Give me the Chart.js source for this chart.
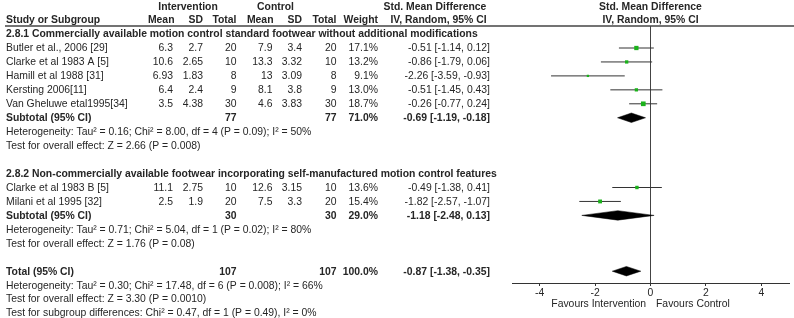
<!DOCTYPE html>
<html><head><meta charset="utf-8">
<script src="https://cdn.jsdelivr.net/npm/chart.js@4/dist/chart.umd.min.js"></script>
<style>html,body{margin:0;padding:0;background:#fff}#wrap{width:794px;height:318px}</style>
</head><body><div id="wrap"><canvas id="c" width="794" height="318"></canvas></div>
<script>
// ---------- data ----------
const studies   = ["Butler et al., 2006 [29]","Clarke et al 1983 A [5]","Hamill et al 1988 [31]","Kersting 2006[11]","Van Gheluwe etal1995[34]","Clarke et al 1983 B [5]","Milani et al 1995 [32]"];
const studyGroup= [0,0,0,0,0,1,1];
const intMean   = [6.3,10.6,6.93,6.4,3.5,11.1,2.5];
const intSD     = [2.7,2.65,1.83,2.4,4.38,2.75,1.9];
const intN      = [20,10,8,9,30,10,20];
const ctlMean   = [7.9,13.3,13,8.1,4.6,12.6,7.5];
const ctlSD     = [3.4,3.32,3.09,3.8,3.83,3.15,3.3];
const ctlN      = [20,10,8,9,30,10,20];
const weights   = [17.1,13.2,9.1,13.0,18.7,13.6,15.4];
const smd       = [-0.51,-0.86,-2.26,-0.51,-0.26,-0.49,-1.82];
const smdLo     = [-1.14,-1.79,-3.59,-1.45,-0.77,-1.38,-2.57];
const smdHi     = [0.12,0.06,-0.93,0.43,0.24,0.41,-1.07];

const groupTitles = ["2.8.1 Commercially available motion control standard footwear without additional modifications",
                     "2.8.2 Non-commercially available footwear incorporating self-manufactured motion control features"];
const subIntN   = [77,30];
const subCtlN   = [77,30];
const subWeight = [71.0,29.0];
const subSmd    = [-0.69,-1.18];
const subLo     = [-1.19,-2.48];
const subHi     = [-0.18,0.13];
const subHet    = ["Heterogeneity: Tau\u00b2 = 0.16; Chi\u00b2 = 8.00, df = 4 (P = 0.09); I\u00b2 = 50%",
                   "Heterogeneity: Tau\u00b2 = 0.71; Chi\u00b2 = 5.04, df = 1 (P = 0.02); I\u00b2 = 80%"];
const subTest   = ["Test for overall effect: Z = 2.66 (P = 0.008)","Test for overall effect: Z = 1.76 (P = 0.08)"];

const totIntN = 107, totCtlN = 107, totWeight = 100.0;
const totSmd = -0.87, totLo = -1.38, totHi = -0.35;
const totHet  = "Heterogeneity: Tau\u00b2 = 0.30; Chi\u00b2 = 17.48, df = 6 (P = 0.008); I\u00b2 = 66%";
const totTest = "Test for overall effect: Z = 3.30 (P = 0.0010)";
const subgroupTest = "Test for subgroup differences: Chi\u00b2 = 0.47, df = 1 (P = 0.49), I\u00b2 = 0%";

const xTicks = [-4,-2,0,2,4];
const favLeft = "Favours Intervention", favRight = "Favours Control";

// ---------- layout of rows (row index) ----------
const rows = [];
rows.push({type:'h0'}); rows.push({type:'h1'});
[0,1].forEach(g=>{
  rows.push({type:'gtitle', g});
  studies.forEach((s,i)=>{ if(studyGroup[i]===g) rows.push({type:'study', i}); });
  rows.push({type:'sub', g});
  rows.push({type:'text', t:subHet[g]});
  rows.push({type:'text', t:subTest[g]});
  rows.push({type:'blank'});
});
rows.push({type:'total'});
rows.push({type:'text', t:totHet});
rows.push({type:'text', t:totTest});
rows.push({type:'text', t:subgroupTest});
const rowOf = {}; rows.forEach((r,k)=>{ if(r.type==='study') rowOf['s'+r.i]=k; if(r.type==='sub') rowOf['g'+r.g]=k; if(r.type==='total') rowOf.tot=k; });

// ---------- style ----------
const ROW_PX = 13.95, ROW0_PX = 6.15, TOP_PX = 26, AXIS_PX = 283;
const GREEN = '#1bb21b', INK = '#262626', LINE = '#333';
const DIA_H = 0.34;
const FONT = '"Liberation Sans", Arial, sans-serif';
const FS = 10.4;

const datasets = [];
studies.forEach((s,i)=>{
  datasets.push({type:'scatter', showLine:true, data:[{x:smdLo[i],y:rowOf['s'+i]},{x:smdHi[i],y:rowOf['s'+i]}],
    borderColor:LINE, borderWidth:1, pointRadius:0, order:2});
});
datasets.push({type:'scatter', data: studies.map((s,i)=>({x:smd[i],y:rowOf['s'+i]})),
  pointStyle:'rect', pointRadius: weights.map(w=>0.25*w/1.4142), backgroundColor:GREEN, borderWidth:0, order:0});
function diamond(est,lo,hi,row){
  return [{x:lo,y:row},{x:est,y:row-DIA_H},{x:hi,y:row},{x:est,y:row+DIA_H},{x:lo,y:row}];
}
[0,1].forEach(g=>{
  datasets.push({type:'scatter', showLine:true, data:diamond(subSmd[g],subLo[g],subHi[g],rowOf['g'+g]),
    borderColor:'#000', borderWidth:0.5, backgroundColor:'#000', fill:'shape', pointRadius:0, tension:0, order:1});
});
datasets.push({type:'scatter', showLine:true, data:diamond(totSmd,totLo,totHi,rowOf.tot),
  borderColor:'#000', borderWidth:0.5, backgroundColor:'#000', fill:'shape', pointRadius:0, tension:0, order:1});

const yMin = (TOP_PX-ROW0_PX)/ROW_PX, yMax = (AXIS_PX-ROW0_PX)/ROW_PX;

const tablePlugin = {
  id:'table',
  afterDraw(chart){
    const ctx = chart.ctx, y = chart.scales.y, x = chart.scales.x;
    const py = k => y.getPixelForValue(k)+0.5;
    const reg = FS+'px '+FONT, bold = 'bold '+FS+'px '+FONT;
    ctx.save();
    ctx.fillStyle = INK; ctx.textBaseline='middle';
    function t(s,xx,yy,align,b){ ctx.font=b?bold:reg; ctx.textAlign=align; ctx.fillText(String(s),xx,yy); }
    const C = {name:6, im:173, isd:203, in:236.5, cm:272.5, csd:302, cn:336.5, w:378, ci:490};
    const ci = (e,l,h)=>e.toFixed(2)+' ['+l.toFixed(2)+', '+h.toFixed(2)+']';
    const x0 = x.getPixelForValue(0);
    rows.forEach((r,k)=>{
      const yy = py(k);
      if(r.type==='h0'){
        t('Intervention',188,yy,'center',true); t('Control',275.5,yy,'center',true);
        t('Std. Mean Difference',435,yy,'center',true); t('Std. Mean Difference',x0,yy,'center',true);
      } else if(r.type==='h1'){
        t('Study or Subgroup',C.name,yy,'left',true);
        t('Mean',174.5,yy,'right',true); t('SD',C.isd,yy,'right',true); t('Total',C.in,yy,'right',true);
        t('Mean',C.cm+1,yy,'right',true); t('SD',C.csd,yy,'right',true); t('Total',C.cn,yy,'right',true);
        t('Weight',C.w,yy,'right',true);
        t('IV, Random, 95% CI',438.5,yy,'center',true); t('IV, Random, 95% CI',x0,yy,'center',true);
      } else if(r.type==='gtitle'){
        t(groupTitles[r.g],C.name,yy,'left',true);
      } else if(r.type==='study'){
        const i=r.i;
        t(studies[i],C.name,yy,'left'); t(intMean[i],C.im,yy,'right'); t(intSD[i],C.isd,yy,'right'); t(intN[i],C.in,yy,'right');
        t(ctlMean[i],C.cm,yy,'right'); t(ctlSD[i],C.csd,yy,'right'); t(ctlN[i],C.cn,yy,'right');
        t(weights[i].toFixed(1)+'%',C.w,yy,'right'); t(ci(smd[i],smdLo[i],smdHi[i]),C.ci,yy,'right');
      } else if(r.type==='sub'){
        const g=r.g;
        t('Subtotal (95% CI)',C.name,yy,'left',true); t(subIntN[g],C.in,yy,'right',true); t(subCtlN[g],C.cn,yy,'right',true);
        t(subWeight[g].toFixed(1)+'%',C.w,yy,'right',true); t(ci(subSmd[g],subLo[g],subHi[g]),C.ci,yy,'right',true);
      } else if(r.type==='total'){
        t('Total (95% CI)',C.name,yy,'left',true); t(totIntN,C.in,yy,'right',true); t(totCtlN,C.cn,yy,'right',true);
        t(totWeight.toFixed(1)+'%',C.w,yy,'right',true); t(ci(totSmd,totLo,totHi),C.ci,yy,'right',true);
      } else if(r.type==='text'){
        t(r.t,C.name,yy,'left');
      }
    });
    // header rule
    ctx.strokeStyle='#444'; ctx.lineWidth=1.5;
    ctx.beginPath(); ctx.moveTo(5,chart.chartArea.top); ctx.lineTo(794,chart.chartArea.top); ctx.stroke();
    // favours labels
    const fy = chart.chartArea.bottom + 21;
    t(favLeft,x0-4.5,fy,'right'); t(favRight,x0+5.5,fy,'left');
    ctx.restore();
  }
};

new Chart(document.getElementById('c'),{
  type:'scatter',
  data:{datasets},
  options:{
    responsive:false, animation:false, devicePixelRatio:1,
    layout:{padding:{left:512,right:5,top:TOP_PX,bottom:0}},
    plugins:{legend:{display:false},tooltip:{enabled:false}},
    scales:{
      x:{type:'linear',min:-5,max:5,
        afterBuildTicks:(s)=>{s.ticks = xTicks.map(v=>({value:v}));},
        afterFit:(s)=>{s.height = 318-AXIS_PX;},
        ticks:{color:INK,font:{family:FONT,size:FS},padding:1,maxRotation:0,autoSkip:false,callback:(v)=>String(v)},
        grid:{drawOnChartArea:true,color:(c)=>c.tick && c.tick.value===0 ? '#444' : 'rgba(0,0,0,0)',lineWidth:1,
              tickLength:3,tickColor:LINE,tickWidth:1},
        border:{display:true,color:LINE,width:1}
      },
      y:{type:'linear',display:false,reverse:true,min:yMin,max:yMax}
    }
  },
  plugins:[tablePlugin]
});
</script></body></html>
